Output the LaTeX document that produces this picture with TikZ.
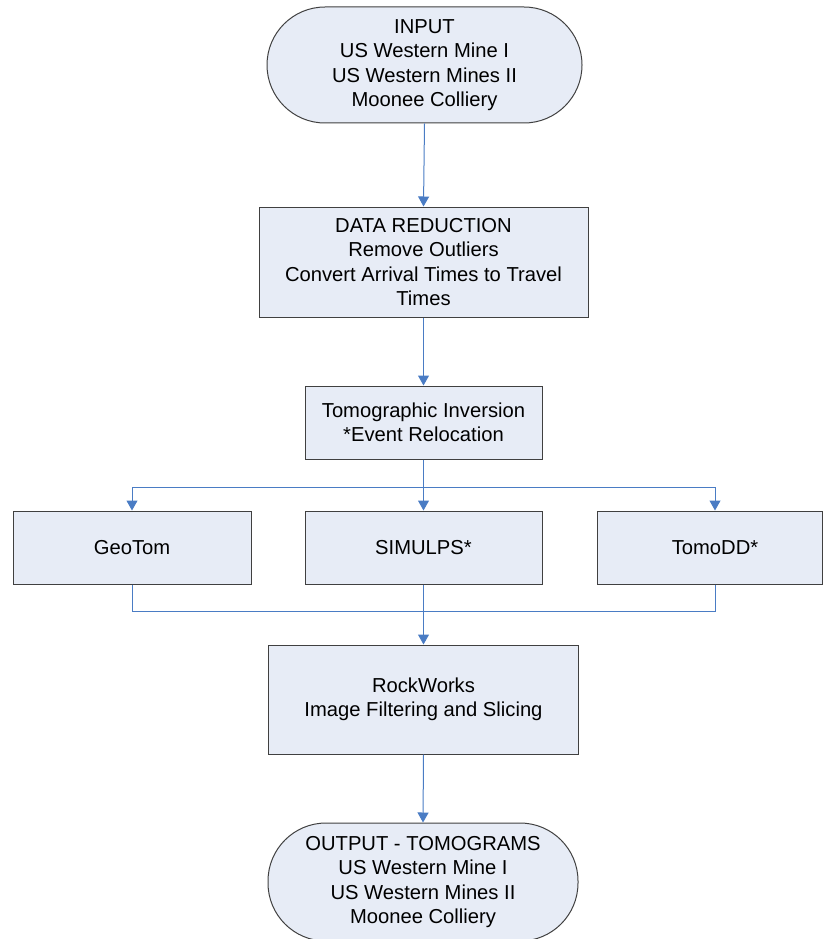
\documentclass[tikz,border=0pt]{standalone}
\usepackage{fontspec}
\setmainfont{Liberation Sans}
\usetikzlibrary{arrows.meta}
\definecolor{boxfill}{HTML}{E7ECF6}
\definecolor{boxline}{HTML}{404040}
\definecolor{connblue}{HTML}{4A7CC4}
\tikzset{
  box/.style={draw=boxline, line width=1pt, fill=boxfill, rectangle, align=center, inner sep=0pt,
    font=\fontsize{20.2}{24.5}\selectfont},
  term/.style={box, rounded corners=58pt},
  link/.style={draw=connblue, line width=1pt},
  conn/.style={link, -{Triangle[width=11pt,length=10pt]}}
}
\begin{document}
\begin{tikzpicture}[x=1pt,y=-1pt]
\useasboundingbox (0,0) rectangle (823,939);
\node[term, minimum width=315pt, minimum height=116pt] (in) at (424.5,65)
  {INPUT\\US Western Mine I\\US Western Mines II\\Moonee Colliery};
\node[box, minimum width=329pt, minimum height=110pt] (dr) at (423.5,262)
  {DATA REDUCTION\\Remove Outliers\\Convert Arrival Times to Travel\\Times};
\node[box, minimum width=237pt, minimum height=73pt] (ti) at (423.5,422.5)
  {Tomographic Inversion\\*Event Relocation};
\node[box, minimum width=238pt, minimum height=73pt] (geo) at (132,547.5) {GeoTom};
\node[box, minimum width=237pt, minimum height=73pt] (sim) at (423.5,547.5) {SIMULPS*};
\node[box, minimum width=225pt, minimum height=73pt] (tomo) at (709.5,547.5) {\hspace*{11pt}TomoDD*};
\node[box, minimum width=310pt, minimum height=109pt] (rw) at (423.5,699.5)
  {RockWorks\\Image Filtering and Slicing};
\node[term, minimum width=310pt, minimum height=118pt] (out) at (423,882)
  {OUTPUT - TOMOGRAMS\\US Western Mine I\\US Western Mines II\\Moonee Colliery};
\coordinate (split) at (424,487);
\coordinate (join) at (424,611);
\draw[conn] (in.south) -- (dr.north);
\draw[conn] (dr.south) -- (ti.north);
\draw[conn] (ti.south) -- (sim.north);
\draw[conn] (split) -| (geo.north);
\draw[conn] (split) -| ([xshift=5.5pt]tomo.north);
\draw[link] (geo.south) |- (join);
\draw[link] ([xshift=5.5pt]tomo.south) |- (join);
\draw[conn] (sim.south) -- (rw.north);
\draw[conn] (rw.south) -- (out.north);
\end{tikzpicture}
\end{document}
